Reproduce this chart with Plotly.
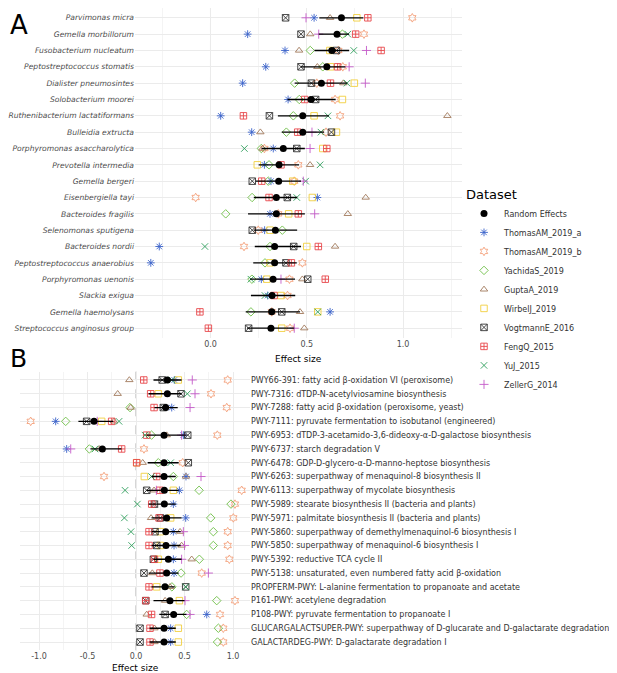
import plotly.graph_objects as go

species = ["Parvimonas micra", "Gemella morbillorum", "Fusobacterium nucleatum",
           "Peptostreptococcus stomatis", "Dialister pneumosintes", "Solobacterium moorei",
           "Ruthenibacterium lactatiformans", "Bulleidia extructa", "Porphyromonas asaccharolytica",
           "Prevotella intermedia", "Gemella bergeri", "Eisenbergiella tayi", "Bacteroides fragilis",
           "Selenomonas sputigena", "Bacteroides nordii", "Peptostreptococcus anaerobius",
           "Porphyromonas uenonis", "Slackia exigua", "Gemella haemolysans",
           "Streptococcus anginosus group"]

sp_re = [0.68, 0.657, 0.63, 0.604, 0.576, 0.522, 0.479, 0.479, 0.378, 0.356,
         0.354, 0.342, 0.342, 0.337, 0.333, 0.333, 0.325, 0.32, 0.318, 0.314]
sp_lo = [0.565, 0.562, 0.54, 0.47, 0.437, 0.40, 0.35, 0.37, 0.265, 0.25,
         0.235, 0.225, 0.195, 0.225, 0.23, 0.222, 0.205, 0.21, 0.183, 0.19]
sp_hi = [0.794, 0.72, 0.72, 0.70, 0.71, 0.65, 0.615, 0.59, 0.49, 0.46,
         0.47, 0.45, 0.49, 0.45, 0.47, 0.448, 0.439, 0.44, 0.465, 0.435]

sp_thomas_a = [0.538, 0.193, 0.387, 0.287, 0.167, 0.403, 0.053, 0.214, 0.326, 0.28,
               0.314, 0.555, 0.309, 0.281, -0.266, -0.31, 0.264, 0.297, 0.621, None]
sp_thomas_b = [1.048, 0.797, 0.664, 0.687, 0.552, 0.647, 0.673, 0.60, 0.28, 0.456,
               0.435, -0.077, 0.352, 0.248, 0.174, 0.477, 0.41, 0.40, 0.318, 0.413]
sp_yachida = [None, 0.685, 0.518, 0.583, 0.437, 0.461, 0.43, 0.394, 0.264, 0.304,
              0.30, 0.216, 0.079, 0.373, 0.309, 0.283, 0.215, None, 0.21, None]
sp_gupta = [0.621, 0.518, 0.46, 0.555, 0.69, None, 1.23, 0.259, 0.27, 0.517,
            None, 0.806, 0.713, None, 0.647, None, 0.477, None, 0.465, 0.487]
sp_wirbel = [0.76, None, 0.62, 0.624, 0.747, 0.685, 0.538, 0.654, 0.583, 0.243,
             0.427, 0.529, 0.406, 0.309, 0.50, 0.309, 0.292, 0.366, 0.557, 0.37]
sp_vogtmann = [0.39, 0.47, 0.654, 0.47, 0.524, 0.546, 0.306, 0.628, 0.448, None,
               0.217, 0.399, None, 0.217, 0.432, 0.392, 0.505, None, 0.37, 0.198]
sp_feng = [0.817, 0.754, 0.886, 0.66, 0.623, 0.489, 0.171, 0.453, 0.604, 0.366,
           0.266, 0.304, 0.456, None, 0.56, 0.42, 0.596, 0.33, -0.055, -0.011]
sp_yu = [None, 0.713, 0.744, None, 0.709, None, 0.61, 0.574, 0.176, 0.569,
         0.494, 0.448, None, None, -0.029, None, 0.21, 0.283, 0.557, None]
sp_zeller = [0.496, 0.562, 0.81, 0.72, 0.804, None, None, 0.527, 0.517, None,
             0.482, None, 0.541, None, None, None, 0.366, None, None, 0.435]

pathways = ["PWY66-391: fatty acid β-oxidation VI (peroxisome)",
            "PWY-7316: dTDP-N-acetylviosamine biosynthesis",
            "PWY-7288: fatty acid β-oxidation (peroxisome, yeast)",
            "PWY-7111: pyruvate fermentation to isobutanol (engineered)",
            "PWY-6953: dTDP-3-acetamido-3,6-dideoxy-α-D-galactose biosynthesis",
            "PWY-6737: starch degradation V",
            "PWY-6478: GDP-D-glycero-α-D-manno-heptose biosynthesis",
            "PWY-6263: superpathway of menaquinol-8 biosynthesis II",
            "PWY-6113: superpathway of mycolate biosynthesis",
            "PWY-5989: stearate biosynthesis II (bacteria and plants)",
            "PWY-5971: palmitate biosynthesis II (bacteria and plants)",
            "PWY-5860: superpathway of demethylmenaquinol-6 biosynthesis I",
            "PWY-5850: superpathway of menaquinol-6 biosynthesis I",
            "PWY-5392: reductive TCA cycle II",
            "PWY-5138: unsaturated, even numbered fatty acid β-oxidation",
            "PROPFERM-PWY: L-alanine fermentation to propanoate and acetate",
            "P161-PWY: acetylene degradation",
            "P108-PWY: pyruvate fermentation to propanoate I",
            "GLUCARGALACTSUPER-PWY: superpathway of D-glucarate and D-galactarate degradation",
            "GALACTARDEG-PWY: D-galactarate degradation I"]

pw_re = [0.323, 0.323, 0.306, -0.433, 0.289, -0.347, 0.289, 0.289, 0.292, 0.292,
         0.316, 0.306, 0.309, 0.333, 0.316, 0.299, 0.35, 0.388, 0.289, 0.289]
pw_lo = [0.18, 0.13, 0.19, -0.594, 0.11, -0.47, 0.12, 0.16, 0.11, 0.13,
         0.16, 0.16, 0.16, 0.18, 0.13, 0.16, 0.18, 0.24, 0.14, 0.14]
pw_hi = [0.47, 0.47, 0.43, -0.234, 0.52, -0.15, 0.44, 0.41, 0.44, 0.41,
         0.47, 0.46, 0.46, 0.47, 0.44, 0.40, 0.50, 0.52, 0.41, 0.41]

pw_thomas_a = [0.395, None, 0.368, -0.828, 0.488, -0.715, None, 0.515, 0.447, 0.385,
               0.512, 0.385, 0.392, 0.385, 0.392, None, None, 0.729, 0.357, 0.357]
pw_thomas_b = [0.945, 0.773, 0.935, -1.086, 0.838, 0.082, 0.481, -0.33, 1.089, 1.02,
               1.003, 0.945, 0.945, 0.962, 0.677, None, 1.02, 0.866, 0.90, 0.90]
pw_yachida = [None, None, -0.062, -0.725, 0.16, -0.481, 0.23, 0.385, 0.65, 0.979,
              0.77, 0.797, 0.797, 0.653, 0.464, 0.37, 0.832, 0.522, 0.849, 0.84]
pw_gupta = [-0.069, -0.189, -0.055, -0.227, 0.316, -0.378, 0.069, 0.515, 0.186, None,
            0.155, 0.454, 0.47, 0.574, 0.168, 0.35, 0.30, 0.11, 0.19, 0.19]
pw_wirbel = [0.436, 0.23, None, -0.354, None, None, 0.007, 0.086, 0.385, None,
             0.357, 0.25, 0.25, 0.23, None, 0.213, 0.447, None, 0.436, 0.436]
pw_vogtmann = [0.27, 0.464, 0.282, -0.509, 0.533, None, 0.539, None, 0.11, 0.19,
               0.25, 0.196, 0.213, 0.179, 0.082, 0.512, 0.10, 0.30, 0.041, 0.041]
pw_feng = [0.08, 0.151, 0.186, -0.251, 0.11, -0.148, 0.007, 0.213, 0.247, 0.162,
           0.237, 0.134, 0.134, 0.19, 0.247, 0.134, 0.10, 0.16, 0.144, 0.144]
pw_yu = [0.368, 0.529, None, -0.175, 0.093, -0.423, 0.357, 0.16, -0.113, 0.014,
         -0.12, -0.052, -0.045, None, None, 0.512, None, None, None, None]
pw_zeller = [0.58, 0.608, 0.557, -0.40, 0.47, -0.673, None, 0.67, 0.21, None,
             None, 0.488, 0.5, 0.47, 0.746, None, 0.505, 0.557, None, None]

datasets = ["ThomasAM_2019_a", "ThomasAM_2019_b", "YachidaS_2019", "GuptaA_2019", "WirbelJ_2019",
            "VogtmannE_2016", "FengQ_2015", "YuJ_2015", "ZellerG_2014"]
sp_values = [sp_thomas_a, sp_thomas_b, sp_yachida, sp_gupta, sp_wirbel,
             sp_vogtmann, sp_feng, sp_yu, sp_zeller]
pw_values = [pw_thomas_a, pw_thomas_b, pw_yachida, pw_gupta, pw_wirbel,
             pw_vogtmann, pw_feng, pw_yu, pw_zeller]

colors = ["#3A62C9", "#F4A07A", "#6DBE45", "#A0785A", "#F2CF3E",
          "#333333", "#E8474C", "#2E9E5B", "#C45AC8"]
symbols = ["asterisk-open", "hexagram-open", "diamond-open", "triangle-up-open", "square-open",
           "square-x-open", "square-cross-open", "x-thin-open", "cross-thin-open"]

fig = go.Figure()

for i, name in enumerate(datasets):
    for vals, yv, ax, show in [(sp_values[i], species, ("x", "y"), True),
                               (pw_values[i], pathways, ("x2", "y2"), False)]:
        fig.add_trace(go.Scatter(
            x=vals, y=yv, mode="markers", name=name, legendgroup=name, showlegend=show,
            legendrank=i + 2, xaxis=ax[0], yaxis=ax[1],
            marker=dict(symbol=symbols[i], size=6.5, color=colors[i],
                        line=dict(color=colors[i], width=0.9))))

# random effects drawn last (on top) but ranked first in the legend
for xv, lo, hi, yv, ax, show in [(sp_re, sp_lo, sp_hi, species, ("x", "y"), True),
                                  (pw_re, pw_lo, pw_hi, pathways, ("x2", "y2"), False)]:
    fig.add_trace(go.Scatter(
        x=xv, y=yv, mode="markers", name="Random Effects", legendgroup="re", showlegend=show,
        legendrank=1, xaxis=ax[0], yaxis=ax[1],
        error_x=dict(type="data", symmetric=False,
                     array=[h - r for h, r in zip(hi, xv)],
                     arrayminus=[r - l for r, l in zip(xv, lo)],
                     width=0, thickness=1.3, color="black"),
        marker=dict(color="black", size=7, symbol="circle")))

# the page body has an 8px margin, so the figure is 8px smaller and
# positions below are given in page pixels
W, H = 609, 665


def px(x):
    return (x - 8) / W


def py(y):
    return 1 - (y - 8) / H


axis_common = dict(showgrid=True, gridcolor="#EBEBEB", gridwidth=1, zeroline=False,
                   showline=False, ticks="", tickfont=dict(size=8, color="#4D4D4D"),
                   automargin=False)

fig.update_layout(
    width=W, height=H, margin=dict(l=0, r=0, t=0, b=0),
    plot_bgcolor="white", paper_bgcolor="white",
    font=dict(family="DejaVu Sans", size=8, color="#4D4D4D"),
    xaxis=dict(domain=[px(135), px(462)], anchor="y", range=[-0.392, 1.306],
               tickvals=[0, 0.5, 1.0], ticktext=["0.0", "0.5", "1.0"],
               minor=dict(tickvals=[-0.25, 0.25, 0.75, 1.25], showgrid=True, gridcolor="#F4F4F4"),
               **axis_common),
    yaxis=dict(domain=[py(338), py(8)], anchor="x", type="category",
               categoryorder="array", categoryarray=species, range=[19.6, -0.6],
               **{**axis_common, "tickfont": dict(size=7.6, color="#4D4D4D", style="italic")}),
    xaxis2=dict(domain=[px(20), px(250)], anchor="y2", range=[-1.196, 1.175],
                tickvals=[-1, -0.5, 0, 0.5, 1.0], ticktext=["-1.0", "-0.5", "0.0", "0.5", "1.0"],
                minor=dict(tickvals=[-0.75, -0.25, 0.25, 0.75], showgrid=True, gridcolor="#F4F4F4"),
                **axis_common),
    yaxis2=dict(domain=[py(650.3), py(371.7)], anchor="x2", side="right", type="category",
                categoryorder="array", categoryarray=pathways, range=[19.6, -0.6],
                **{**axis_common, "tickfont": dict(size=8.0, color="#333333")}),
    legend=dict(x=px(464), y=py(182), xanchor="left", yanchor="top",
                title=dict(text="Dataset", font=dict(size=13, color="black")),
                font=dict(size=8, color="#333333"), tracegroupgap=0,
                bgcolor="rgba(0,0,0,0)"),
    shapes=[dict(type="line", xref="x", yref="y domain", x0=0, x1=0, y0=0, y1=1,
                 line=dict(color="#AAAAAA", width=1, dash="dash"), layer="below"),
            dict(type="line", xref="x2", yref="y2 domain", x0=0, x1=0, y0=0, y1=1,
                 line=dict(color="#AAAAAA", width=1, dash="dash"), layer="below")],
    annotations=[dict(text="A", x=0.0, y=1.0, xref="paper", yref="paper", xanchor="left",
                      yanchor="top", showarrow=False,
                      font=dict(size=26, color="black")),
                 dict(text="B", x=0.0, y=py(345), xref="paper", yref="paper", xanchor="left",
                      yanchor="top", yshift=3, showarrow=False,
                      font=dict(size=25, color="black")),
                 dict(text="Effect size", x=px(298.5), y=py(359), xref="paper", yref="paper",
                      xanchor="center", yanchor="middle", showarrow=False,
                      font=dict(size=9, color="black")),
                 dict(text="Effect size", x=px(135), y=py(668), xref="paper", yref="paper",
                      xanchor="center", yanchor="middle", showarrow=False,
                      font=dict(size=9, color="black"))],
)

fig.write_html("out.html")
